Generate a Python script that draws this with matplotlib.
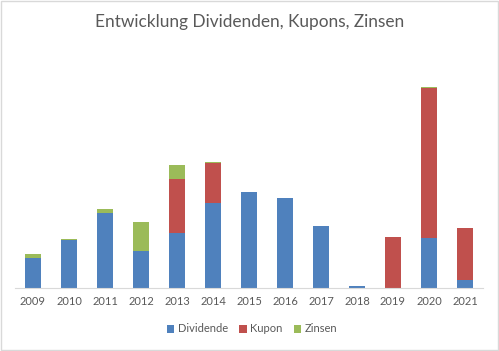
import matplotlib
matplotlib.use("Agg")
import matplotlib.pyplot as plt
import numpy as np
from matplotlib.patches import Rectangle

years = ['2009', '2010', '2011', '2012', '2013', '2014', '2015',
         '2016', '2017', '2018', '2019', '2020', '2021']
dividende = [30, 48, 75, 37, 55, 85, 96, 90, 62, 1.7, 0, 50, 7.7]
kupon = [0, 0, 0, 0, 54, 40.5, 0, 0, 0, 0, 50.7, 150.3, 52.3]
zinsen = [4, 0.8, 4, 29, 14, 0.5, 0.5, 0.5, 0, 0, 0.5, 0.5, 0]

blue = '#4F81BD'
red = '#C0504D'
green = '#9BBB59'
grey_text = '#595959'

plt.rcParams['font.family'] = ['Lato', 'DejaVu Sans']

fig = plt.figure(figsize=(4.99, 3.51), dpi=100)
fig.patches.append(Rectangle((0.002, 0.003), 0.996, 0.994, transform=fig.transFigure,
                             fill=False, edgecolor='#D9D9D9', linewidth=1))

ax = fig.add_axes([15 / 499, 1 - 288 / 351, 468 / 499, 228 / 351])
ind = np.arange(len(years))
width = 0.42
div = np.array(dividende)
kup = np.array(kupon)
zin = np.array(zinsen)

ax.bar(ind, div, width, color=blue, label='Dividende')
ax.bar(ind, kup, width, bottom=div, color=red, label='Kupon')
ax.bar(ind, zin, width, bottom=div + kup, color=green, label='Zinsen')

ax.set_xlim(-0.5, len(years) - 0.5)
ax.set_ylim(0, 228)
ax.set_yticks([])
ax.set_xticks(ind)
ax.set_xticklabels(years, fontsize=8, color=grey_text)
ax.tick_params(axis='x', length=0, pad=6)
for side in ['top', 'left', 'right']:
    ax.spines[side].set_visible(False)
ax.spines['bottom'].set_color('#D9D9D9')

fig.text(0.5, 1 - 22 / 351, 'Entwicklung Dividenden, Kupons, Zinsen',
         ha='center', va='center', fontsize=12.4, color=grey_text)

fig.legend(loc='center', bbox_to_anchor=(0.505, 1 - 329 / 351), ncol=3, frameon=False,
           fontsize=8, handlelength=0.7, handleheight=0.7, handletextpad=0.3,
           columnspacing=1.0, labelcolor=grey_text)

plt.savefig('out.png', dpi=100)
